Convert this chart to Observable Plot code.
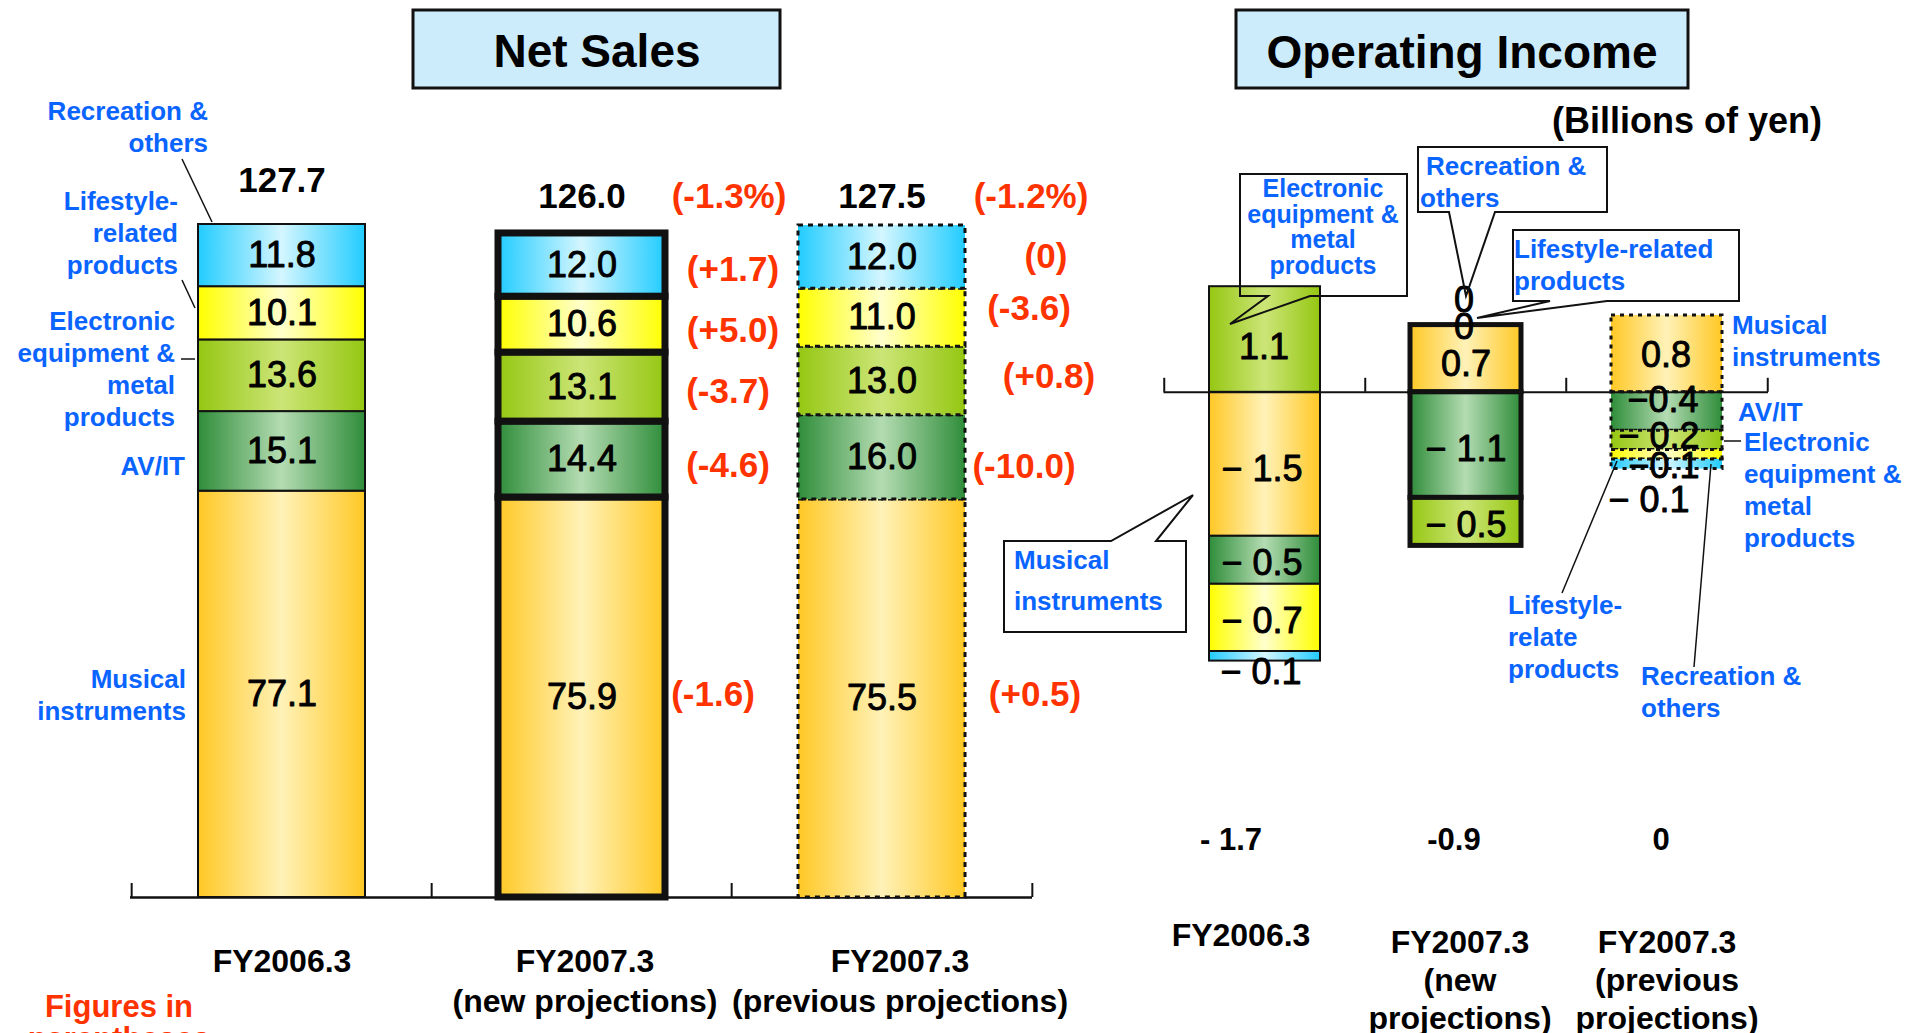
<!DOCTYPE html>
<html>
<head>
<meta charset="utf-8">
<script src="https://cdn.jsdelivr.net/npm/d3@7"></script>
<script src="https://cdn.jsdelivr.net/npm/@observablehq/plot@0.6"></script>
<style>
  body { margin: 0; background: #fff; }
  #chart { position: relative; width: 1919px; height: 1033px; overflow: hidden; background: #fff; }
  #chart svg { position: absolute; left: 0; top: 0; }
</style>
</head>
<body>
<div id="chart"></div>
<script>
// ---------------- DATA ----------------
const segments = ["Musical instruments", "AV/IT", "Electronic equipment & metal products", "Lifestyle-related products", "Recreation & others"];

const salesCategories = ["FY2006.3", "FY2007.3 (new projections)", "FY2007.3 (previous projections)"];
const salesTickLabels = ["FY2006.3", "FY2007.3\n(new projections)", "FY2007.3\n(previous projections)"];
const salesFY2006 = [77.1, 15.1, 13.6, 10.1, 11.8];
const salesNew = [75.9, 14.4, 13.1, 10.6, 12.0];
const salesPrev = [75.5, 16.0, 13.0, 11.0, 12.0];
const salesTotals = [127.7, 126.0, 127.5];
const salesChangeNew = ["(-1.6)", "(-4.6)", "(-3.7)", "(+5.0)", "(+1.7)"];
const salesChangePrev = ["(+0.5)", "(-10.0)", "(+0.8)", "(-3.6)", "(0)"];
const salesTotalChange = ["", "(-1.3%)", "(-1.2%)"];

const incomeCategories = ["FY2006.3", "FY2007.3 (new projections)", "FY2007.3 (previous projections)"];
const incomeTickLabels = ["FY2006.3", "FY2007.3\n(new\nprojections)", "FY2007.3\n(previous\nprojections)"];
const incomeFY2006 = [-1.5, -0.5, 1.1, -0.7, -0.1];
const incomeNew = [0.7, -1.1, -0.5, 0, 0];
const incomePrev = [0.8, -0.4, -0.2, -0.1, -0.1];
const incomeTotalLabels = ["- 1.7", "-0.9", "0"];
const incomeLabelsFY2006 = ["\u2212 1.5", "\u2212 0.5", "1.1", "\u2212 0.7", "\u2212 0.1"];
const incomeLabelsNew = ["0.7", "\u2212 1.1", "\u2212 0.5", "0", "0"];
const incomeLabelsPrev = ["0.8", "\u22120.4", "\u2212 0.2", "\u22120.1", "\u2212 0.1"];

// ---------------- STYLE / LAYOUT ----------------
const FONT = '"Liberation Sans", Arial, Helvetica, sans-serif';
const BLUE = "#0a64ff";
const RED = "#ff3300";
const INK = "#111";
const gradients = [
  {id: "mus", edge: "#ffc825", mid: "#fff2b8"},
  {id: "av", edge: "#2f8d3a", mid: "#b4dcb2"},
  {id: "el", edge: "#95c712", mid: "#cce577"},
  {id: "li", edge: "#ffff00", mid: "#ffffcc"},
  {id: "re", edge: "#22ccff", mid: "#d4f6ff"}
];
const nsBarStyles = [{sw: 2}, {sw: 7}, {sw: 3, dash: "5,5"}];
const oiBarStyles = [{sw: 2}, {sw: 5}, {sw: 3, dash: "4,5"}];
const valueTextStyle = {fontSize: 36, fill: "#000", stroke: "#000", strokeWidth: 0.9, paintOrder: "fill"};

const NS = {left: 130, right: 1032, top: 224, bottom: 897};
const OI = {left: 1163.5, right: 1768, top: 286.2, bottom: 555};
const nsPx = (NS.bottom - NS.top) / 127.7;
const oiPx = (OI.bottom - OI.top) / 2.8;
const nsStep = (NS.right - NS.left) / 3;
const oiStep = (OI.right - OI.left) / 3;

// nudges (pixels)
const nsTotalDy = [-44, -37, -29];
const nsTotalChange = [null, {dx: 147, dy: -37}, {dx: 149, dy: -29}];
const nsChangeNudgeNew = [[131, -3], [146, 6], [146, 5], [151, 6], [151, 5]];
const nsChangeNudgePrev = [[153, -4], [142, 9], [167, -4], [147, -9], [164, 0]];
const nsTickDx = [0, 3, 18];
const oiLabelNudge = [
  [[-3, 5], [-3, 3], [-1, 8], [-3, 4], [-4, 16]],
  [[0, 6], [0, 4], [0, 4], [-2, 2], [-2, -25]],
  [[-1, 2], [-4, -11], [-8, -4], [-3, 12], [-18, 36]]
];
const oiTotalDx = [-34, -12, -6];
const oiTickDx = [-24, -6, 0];
const oiTickDy = [526, 533, 533];

// ---------------- HELPERS ----------------
function midpoints(vals) {
  let pos = 0, neg = 0;
  return vals.map(v => {
    if (v > 0) { const m = pos + v / 2; pos += v; return m; }
    if (v < 0) { const m = neg + v / 2; neg += v; return m; }
    return pos;
  });
}
function addDefs(svg, prefix) {
  const defs = d3.select(svg).insert("defs", ":first-child");
  gradients.forEach(g => {
    const lg = defs.append("linearGradient").attr("id", prefix + g.id)
      .attr("x1", "0").attr("x2", "1").attr("y1", "0").attr("y2", "0");
    lg.append("stop").attr("offset", "0").attr("stop-color", g.edge);
    lg.append("stop").attr("offset", "0.5").attr("stop-color", g.mid);
    lg.append("stop").attr("offset", "1").attr("stop-color", g.edge);
  });
}
const chart = document.getElementById("chart");

// ---------------- NET SALES ----------------
const salesSeries = [salesFY2006, salesNew, salesPrev];
const nsMarks = [];
nsMarks.push(Plot.ruleY([0], {stroke: INK, strokeWidth: 2.5}));
nsMarks.push(Plot.ruleX(salesCategories, {x: d => d, dx: -nsStep / 2, y1: 0, y2: 14 / nsPx, stroke: INK, strokeWidth: 2}));
nsMarks.push(Plot.ruleX(salesCategories.slice(-1), {x: d => d, dx: nsStep / 2, y1: 0, y2: 14 / nsPx, stroke: INK, strokeWidth: 2}));
salesCategories.forEach((cat, i) => {
  const vals = salesSeries[i];
  const rows = vals.map((v, j) => ({cat, seg: j, value: v}));
  const st = nsBarStyles[i];
  const barOpts = {x: "cat", y: "value", fill: d => `url(#ns-${gradients[d.seg].id})`, stroke: INK, strokeWidth: st.sw};
  if (st.dash) barOpts.strokeDasharray = st.dash;
  nsMarks.push(Plot.barY(rows, barOpts));
  const mids = midpoints(vals);
  nsMarks.push(Plot.text(rows, {x: "cat", y: d => mids[d.seg], text: d => d.value.toFixed(1), ...valueTextStyle}));
  nsMarks.push(Plot.text([salesTotals[i]], {x: () => cat, y: d => d, text: d => d.toFixed(1), dy: nsTotalDy[i], fontSize: 35, fontWeight: "bold", fill: "#000"}));
  if (nsTotalChange[i]) {
    nsMarks.push(Plot.text([salesTotals[i]], {x: () => cat, y: d => d, text: () => salesTotalChange[i], dx: nsTotalChange[i].dx, dy: nsTotalChange[i].dy, fontSize: 35, fontWeight: "bold", fill: RED}));
  }
  if (i > 0) {
    const changes = i === 1 ? salesChangeNew : salesChangePrev;
    const nudges = i === 1 ? nsChangeNudgeNew : nsChangeNudgePrev;
    rows.forEach((r, j) => {
      nsMarks.push(Plot.text([r], {x: "cat", y: () => mids[j], text: () => changes[j], dx: nudges[j][0], dy: nudges[j][1], fontSize: 35, fontWeight: "bold", fill: RED}));
    });
  }
  nsMarks.push(Plot.text([salesTickLabels[i]], {x: () => cat, y: () => 0, text: d => d, dx: nsTickDx[i], dy: 46, lineAnchor: "top", lineHeight: 1.25, fontSize: 32, fontWeight: "bold", fill: "#000"}));
});

const nsPlot = Plot.plot({
  width: 1919, height: 1033,
  marginLeft: NS.left, marginRight: 1919 - NS.right, marginTop: NS.top, marginBottom: 1033 - NS.bottom,
  style: {background: "transparent", fontFamily: FONT, overflow: "visible"},
  x: {type: "band", domain: salesCategories, paddingInner: 0.4446, paddingOuter: 0.2223, axis: null},
  y: {domain: [0, 127.7], axis: null},
  color: {type: "identity"},
  marks: nsMarks
});
addDefs(nsPlot, "ns-");
chart.appendChild(nsPlot);

// ---------------- OPERATING INCOME ----------------
const incomeSeries = [incomeFY2006, incomeNew, incomePrev];
const incomeLabels = [incomeLabelsFY2006, incomeLabelsNew, incomeLabelsPrev];
const oiMarks = [];
incomeCategories.forEach((cat, i) => {
  const vals = incomeSeries[i];
  const rows = vals.map((v, j) => ({cat, seg: j, value: v}));
  const st = oiBarStyles[i];
  const barOpts = {x: "cat", y: "value", fill: d => `url(#oi-${gradients[d.seg].id})`, stroke: INK, strokeWidth: st.sw};
  if (st.dash) barOpts.strokeDasharray = st.dash;
  oiMarks.push(Plot.barY(rows.filter(r => r.value !== 0), barOpts));
});
oiMarks.push(Plot.ruleY([0], {stroke: INK, strokeWidth: 2}));
oiMarks.push(Plot.ruleX(incomeCategories, {x: d => d, dx: -oiStep / 2, y1: 0, y2: 14 / oiPx, stroke: INK, strokeWidth: 2}));
oiMarks.push(Plot.ruleX(incomeCategories.slice(-1), {x: d => d, dx: oiStep / 2, y1: 0, y2: 14 / oiPx, stroke: INK, strokeWidth: 2}));
incomeCategories.forEach((cat, i) => {
  const vals = incomeSeries[i];
  const mids = midpoints(vals);
  vals.forEach((v, j) => {
    oiMarks.push(Plot.text([v], {x: () => cat, y: () => mids[j], text: () => incomeLabels[i][j], dx: oiLabelNudge[i][j][0], dy: oiLabelNudge[i][j][1], ...valueTextStyle}));
  });
  oiMarks.push(Plot.text([incomeTotalLabels[i]], {x: () => cat, y: () => 0, text: d => d, dx: oiTotalDx[i], dy: 448, fontSize: 31, fontWeight: "bold", fill: "#000"}));
  oiMarks.push(Plot.text([incomeTickLabels[i]], {x: () => cat, y: () => 0, text: d => d, dx: oiTickDx[i], dy: oiTickDy[i], lineAnchor: "top", lineHeight: 1.2, fontSize: 32, fontWeight: "bold", fill: "#000"}));
});

const oiPlot = Plot.plot({
  width: 1919, height: 1033,
  marginLeft: OI.left, marginRight: 1919 - OI.right, marginTop: OI.top, marginBottom: 1033 - OI.bottom,
  style: {background: "transparent", fontFamily: FONT, overflow: "visible"},
  x: {type: "band", domain: incomeCategories, paddingInner: 0.447, paddingOuter: 0.2235, axis: null},
  y: {domain: [-1.7, 1.1], axis: null},
  color: {type: "identity"},
  marks: oiMarks
});
addDefs(oiPlot, "oi-");
chart.appendChild(oiPlot);

// ---------------- ANNOTATIONS ----------------
const ov = d3.create("svg").attr("width", 1919).attr("height", 1033)
  .style("font-family", FONT).style("overflow", "visible");

function label(x, y, lines, size, opts = {}) {
  const lh = opts.lh || size * 1.22;
  lines.forEach((s, k) => {
    ov.append("text")
      .attr("x", x).attr("y", y + k * lh + size * 0.36)
      .attr("text-anchor", opts.anchor || "start")
      .attr("font-size", size).attr("font-weight", opts.weight || "bold")
      .attr("fill", opts.fill || BLUE)
      .text(s);
  });
}
function path(d, w = 2) {
  ov.append("path").attr("d", d).attr("fill", "none").attr("stroke", INK).attr("stroke-width", w).attr("stroke-linejoin", "miter");
}

// Title boxes
ov.append("rect").attr("x", 413).attr("y", 10).attr("width", 367).attr("height", 78).attr("fill", "#ccecfc").attr("stroke", INK).attr("stroke-width", 3);
label(597, 50, ["Net Sales"], 46, {anchor: "middle", fill: "#000"});
ov.append("rect").attr("x", 1236).attr("y", 10).attr("width", 452).attr("height", 78).attr("fill", "#ccecfc").attr("stroke", INK).attr("stroke-width", 3);
label(1462, 51, ["Operating Income"], 46, {anchor: "middle", fill: "#000"});
label(1687, 120, ["(Billions of yen)"], 36, {anchor: "middle", fill: "#000"});

// Net sales segment labels
label(208, 111, ["Recreation &", "others"], 26, {anchor: "end", lh: 32});
label(178, 201, ["Lifestyle-", "related", "products"], 26, {anchor: "end", lh: 32});
label(175, 321, ["Electronic", "equipment &", "metal", "products"], 26, {anchor: "end", lh: 32});
label(185, 466, ["AV/IT"], 26, {anchor: "end"});
label(186, 679, ["Musical", "instruments"], 26, {anchor: "end", lh: 32});
path("M182,159 L212,222", 1.5);
path("M182,280 L195,308", 1.5);
path("M181,359 L195,359", 1.5);
label(119, 1006, ["Figures in", "parentheses"], 31, {anchor: "middle", fill: RED, lh: 32});

// Operating income callouts
path("M1240,174 H1407 V296 H1310 L1230,324 L1268,296 H1240 Z");
label(1323, 188, ["Electronic", "equipment &", "metal", "products"], 25, {anchor: "middle", lh: 25.7});
path("M1418,147 H1607 V212 H1495 L1466,296 L1449,212 H1418 Z");
label(1426, 166, ["Recreation &"], 26);
label(1420, 198, ["others"], 26);
path("M1513,230 H1739 V301 H1607 L1477,318 L1550,301 H1513 Z");
label(1514, 249, ["Lifestyle-related", "products"], 26, {lh: 32});
path("M1004,541 H1111 L1193,495 L1156,541 H1186 V632 H1004 Z");
label(1014, 560, ["Musical", "instruments"], 26, {lh: 41});

// Operating income right-side labels
label(1732, 325, ["Musical", "instruments"], 26, {lh: 32});
label(1738, 412, ["AV/IT"], 26);
label(1744, 442, ["Electronic", "equipment &", "metal", "products"], 26, {lh: 32});
path("M1724,441 H1741", 1.5);
label(1508, 605, ["Lifestyle-", "relate", "products"], 26, {lh: 32});
path("M1562,593 L1617,461", 1.5);
label(1641, 676, ["Recreation &", "others"], 26, {lh: 32});
path("M1694,667 L1711,464", 1.5);

chart.appendChild(ov.node());
</script>
</body>
</html>
